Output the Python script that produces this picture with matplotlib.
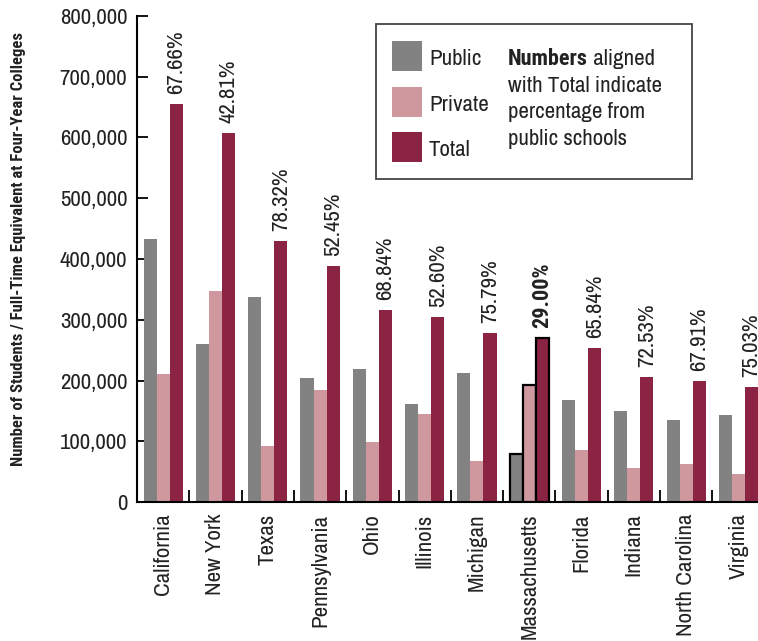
import matplotlib
matplotlib.use("Agg")
import matplotlib.pyplot as plt
from matplotlib.patches import Rectangle
import numpy as np

plt.rcParams['font.family'] = ['Archivo Narrow', 'DejaVu Sans']
BOLD_FAMILY = ['Roboto Condensed', 'DejaVu Sans']

states = ["California", "New York", "Texas", "Pennsylvania", "Ohio", "Illinois",
          "Michigan", "Massachusetts", "Florida", "Indiana", "North Carolina", "Virginia"]
public = [433400, 260400, 337700, 203900, 218700, 161200,
          212200, 78900, 168300, 149700, 135400, 143100]
private = [210700, 347500, 92600, 184700, 99200, 145200,
           67900, 192900, 86000, 56400, 63500, 47000]
total = [654600, 607400, 429800, 388700, 316300, 304800,
         278500, 270700, 253800, 206100, 199500, 189600]
pct_public = ["67.66%", "42.81%", "78.32%", "52.45%", "68.84%", "52.60%",
              "75.79%", "29.00%", "65.84%", "72.53%", "67.91%", "75.03%"]
highlight = "Massachusetts"
yticks = [0, 100000, 200000, 300000, 400000, 500000, 600000, 700000, 800000]

C_PUB = "#828282"
C_PRI = "#cf979e"
C_TOT = "#8b2343"
TXT = "#222222"
FS = 16.5

W, H = 758, 641
fig = plt.figure(figsize=(W / 100, H / 100), dpi=100)


def fx(px):
    return px / W


def fy(py):
    return 1 - py / H


ax = fig.add_axes([fx(137), fy(502.3), 627.6 / W, 486.6 / H])

x = np.arange(len(states))
bw = 0.25
hi = states.index(highlight)
for vals, off, col in [(public, -bw, C_PUB), (private, 0, C_PRI), (total, bw, C_TOT)]:
    bars = ax.bar(x + off, vals, width=bw, color=col, linewidth=0, zorder=2)
    b = bars[hi]
    b.set_edgecolor("black")
    b.set_linewidth(1.6)
    b.set_zorder(3)

for i, (t, p) in enumerate(zip(total, pct_public)):
    if i == hi:
        kw = dict(fontweight="bold", family=BOLD_FAMILY, fontsize=FS - 0.5)
    else:
        kw = dict(fontsize=FS)
    ax.annotate(p, (x[i] + bw, t), xytext=(0, 7), textcoords="offset points",
                rotation=90, ha="center", va="bottom", color=TXT,
                annotation_clip=False, **kw)

ax.set_xlim(-0.5, len(states) - 0.5)
ax.set_ylim(0, 800000)
ax.set_yticks(yticks)
ax.set_yticklabels([f"{v:,}" for v in yticks])
ax.tick_params(axis="y", direction="in", length=8, width=1.3, pad=7,
               labelsize=FS, labelcolor=TXT)
ax.set_xticks(x)
ax.set_xticklabels(states, rotation=90, ha="center", va="top")
ax.tick_params(axis="x", which="major", length=0, pad=8, labelsize=FS,
               labelcolor=TXT)
ax.set_xticks(x[:-1] + 0.5, minor=True)
ax.tick_params(axis="x", which="minor", direction="in", length=8.5, width=1.3)

for s in ["top", "right"]:
    ax.spines[s].set_visible(False)
for s in ["left", "bottom"]:
    ax.spines[s].set_linewidth(1.5)
    ax.spines[s].set_color("black")

fig.text(fx(18.5), fy(249.5),
         "Number of Students / Full-Time Equivalent at Four-Year Colleges",
         rotation=90, ha="center", va="center", fontsize=12, fontweight="bold",
         family=BOLD_FAMILY, color=TXT)

# legend box with explanatory note
fig.patches.append(Rectangle((fx(376), fy(179)), (692 - 376) / W, (179 - 24) / H,
                             transform=fig.transFigure, facecolor="white",
                             edgecolor="#444444", linewidth=1.3, zorder=5))
for (top, base, col, name) in [(41, 65, C_PUB, "Public"), (87, 111, C_PRI, "Private"),
                               (132, 156, C_TOT, "Total")]:
    fig.patches.append(Rectangle((fx(392), fy(top + 30)), 30 / W, 30 / H,
                                 transform=fig.transFigure, facecolor=col,
                                 linewidth=0, zorder=6))
    fig.text(fx(429), fy(base), name, ha="left", va="baseline", fontsize=FS,
             color=TXT, zorder=7)

first = fig.text(fx(508), fy(65), "Numbers", ha="left", va="baseline", fontsize=FS - 0.5,
                 fontweight="bold", family=BOLD_FAMILY, color=TXT, zorder=7)
rest = fig.text(0, fy(65), " aligned", ha="left", va="baseline", fontsize=FS,
                color=TXT, zorder=7)
fig.canvas.draw()
bb = first.get_window_extent().transformed(fig.transFigure.inverted())
rest.set_x(bb.x1)
for yy, line in [(91.5, "with Total indicate"), (118, "percentage from"), (145, "public schools")]:
    fig.text(fx(508), fy(yy), line, ha="left", va="baseline", fontsize=FS,
             color=TXT, zorder=7)

fig.savefig("out.png", dpi=100)
